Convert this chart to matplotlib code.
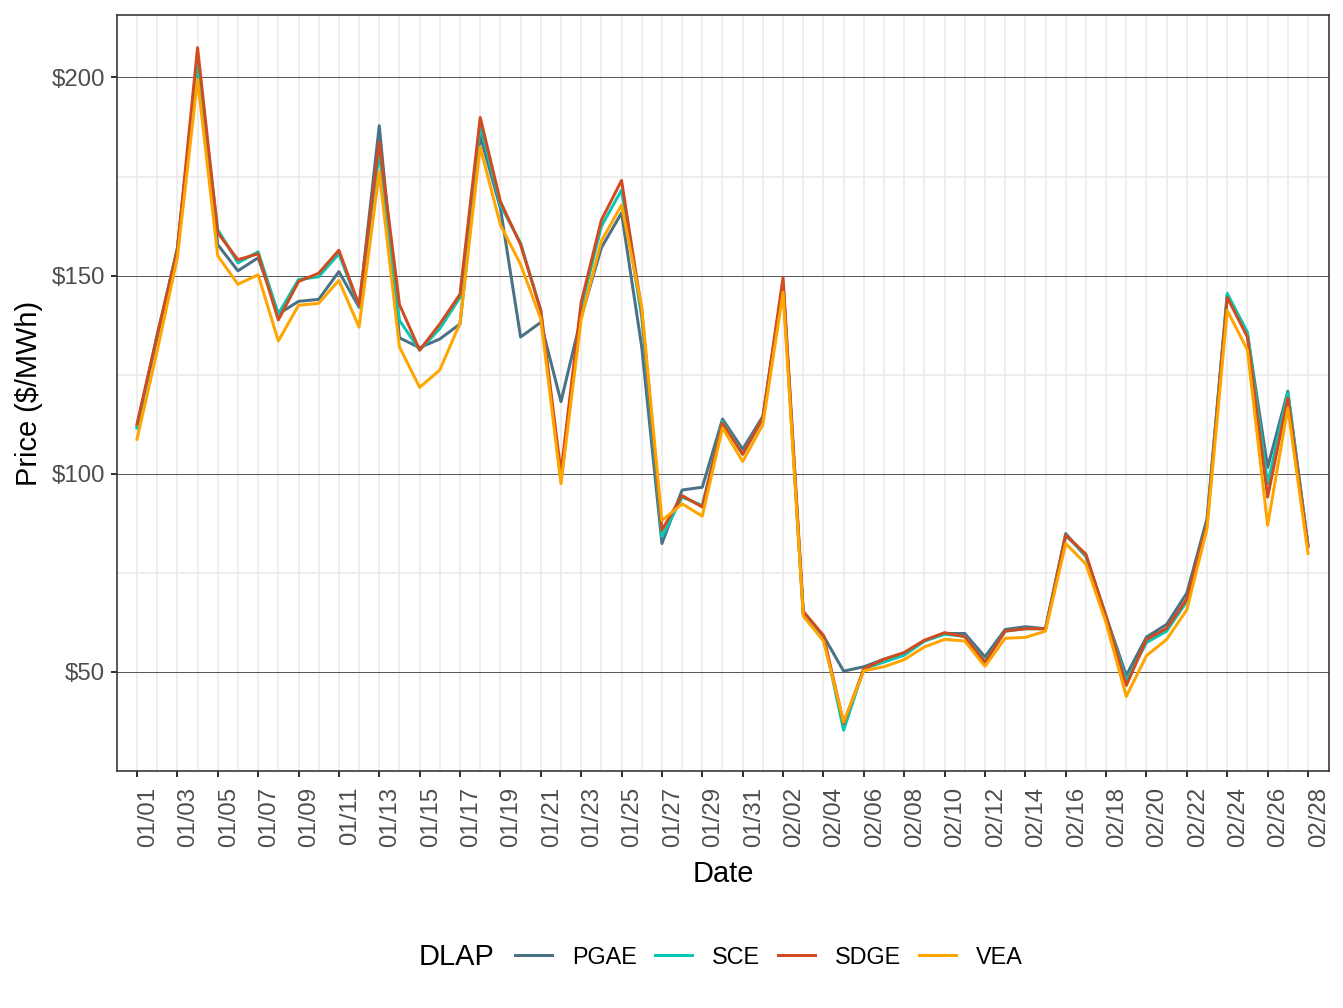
import numpy as np
import pandas as pd
import matplotlib
matplotlib.use("Agg")
import matplotlib.pyplot as plt
from matplotlib.lines import Line2D

plt.rcParams['font.family'] = ['Liberation Sans', 'DejaVu Sans']

# daily average DLAP prices, Jan 1 - Feb 28
dates = pd.date_range("2023-01-01", "2023-02-28", freq="D")

pgae = [112, 134.5, 157, 203, 157.8, 151.2, 154.5, 140.3, 143.5, 144,
        151, 142, 187.8, 134.3, 131.8, 134, 137.8, 185.3, 167, 134.5,
        138.2, 118.2, 139.5, 157, 165.8, 132, 82.4, 95.9, 96.6, 113.8,
        106.2, 114.5, 148, 64.5, 59.1, 50.2, 51.3, 53.2, 54.7, 57.8,
        59.7, 59.7, 53.8, 60.7, 61.4, 60.9, 84.9, 79.1, 64, 49.1,
        58.8, 62, 69.9, 88.7, 144.9, 135.3, 101.6, 120.8, 82]
sce = [111.5, 135, 156.5, 204, 161.6, 153.2, 156, 140.3, 149, 149.7,
       155.5, 142.2, 181, 138.7, 131.2, 136.6, 144.5, 187.8, 167.8, 158.2,
       141.2, 98, 142, 162.4, 171.6, 139.5, 84.1, 94.1, 92, 113.2,
       105, 114, 147.8, 64.8, 59, 35.3, 50.8, 52.5, 54.2, 57.8,
       59.5, 59, 52.6, 60.3, 60.9, 60.9, 84.5, 79.3, 63.7, 47.8,
       57.4, 60.3, 67.8, 87.6, 145.5, 135.7, 97.4, 120.4, 81.8]
sdge = [112.5, 135, 156.5, 207.5, 160.8, 154, 155.5, 138.8, 148.5, 150.6,
        156.4, 142.5, 183.7, 142.7, 131.2, 137.8, 145.3, 189.9, 168.7, 157.8,
        141.2, 100.3, 143.2, 164, 174, 141.2, 85.8, 94.5, 91.6, 112.8,
        104.9, 114.1, 149.5, 65.3, 59.2, 37, 50.8, 53.2, 54.9, 58,
        59.9, 58.9, 52.4, 60.3, 60.9, 60.9, 84.5, 79.7, 64, 46.6,
        58.2, 61, 68.4, 87.4, 144.5, 134.5, 94.1, 119.1, 81.6]
vea = [108.7, 131, 154.5, 199.5, 155, 147.8, 150.2, 133.5, 142.5, 143,
       148.8, 137, 176.2, 132, 121.8, 126.2, 138, 182.4, 162.8, 152.8,
       139.1, 97.5, 139, 158.7, 167.8, 142, 88.2, 92.4, 89.3, 111.6,
       103.1, 112.4, 145.8, 64.1, 57.8, 37.4, 50.3, 51.3, 53.1, 56.3,
       58.2, 57.8, 51.4, 58.5, 58.7, 60.3, 82.4, 77.2, 62.4, 43.8,
       54.1, 58.2, 65.7, 86.2, 141.2, 131.2, 87, 116.6, 79.9]

names = ["PGAE", "SCE", "SDGE", "VEA"]
series = [pgae, sce, sdge, vea]
colors = ["#4a7186", "#0ac6b4", "#d14b20", "#ffa500"]

fig = plt.figure(figsize=(9.3333, 7), dpi=144)
ax = fig.add_axes([0.08705, 0.23512, 0.90179, 0.75])

for name, vals, col in zip(names, series, colors):
    ax.plot(dates, vals, color=col, lw=1.5, label=name)

# axis ranges
ax.set_xlim(dates[0] - pd.Timedelta(days=0.99), dates[0] + pd.Timedelta(days=59.04))
ax.set_ylim(26.75, 215.75)

# ticks
ax.set_xticks(dates[::2])
ax.set_xticklabels([d.strftime("%m/%d") for d in dates[::2]], rotation=90,
                   ha="left", va="top")
ax.set_xticks(dates[1::2], minor=True)
ax.set_yticks([50, 100, 150, 200])
ax.set_yticklabels(["$50", "$100", "$150", "$200"])
ax.set_yticks([25, 75, 125, 175], minor=True)
ax.tick_params(axis="both", which="major", length=3, width=1, color="#333333",
               labelsize=12, labelcolor="#4d4d4d", pad=3)
ax.tick_params(axis="x", which="major", pad=5)
ax.tick_params(axis="both", which="minor", length=0)

# grid
ax.grid(True, axis="x", which="both", color="#ebebeb", lw=0.8)
ax.grid(True, axis="y", which="minor", color="#ebebeb", lw=0.8)
ax.grid(True, axis="y", which="major", color="#5a5a5a", lw=0.5)
ax.set_axisbelow(True)
for sp in ax.spines.values():
    sp.set_color("#333333")
    sp.set_linewidth(0.8)

ax.set_xlabel("Date", fontsize=14.5, labelpad=6.5)
ax.set_ylabel("Price ($/MWh)", fontsize=14.5, labelpad=4)

# legend at the bottom, title on the left
handles = [Line2D([], [], color=c, lw=1.5) for c in colors]
fig.text(419 / 1344, 1 - 957 / 1008, "DLAP", fontsize=14.5, ha="left", va="center")
fig.legend(handles, names, loc="center left", ncol=4, frameon=False,
           bbox_to_anchor=(515 / 1344, 1 - 957 / 1008), fontsize=11.7,
           handlelength=1.6, handletextpad=0.85, columnspacing=0.75,
           borderpad=0, borderaxespad=0)

fig.savefig("out.png", dpi=144)
